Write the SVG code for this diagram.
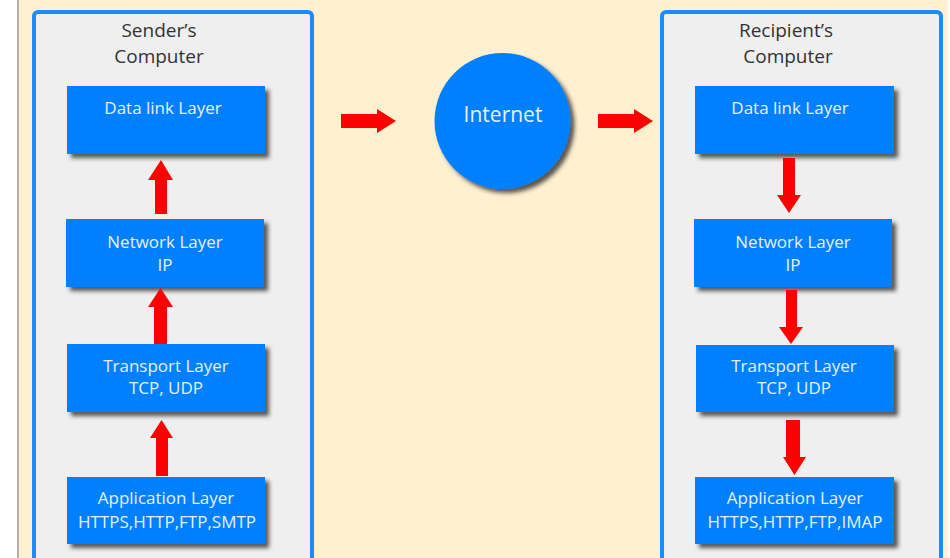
<svg xmlns="http://www.w3.org/2000/svg" width="950" height="558" viewBox="0 0 950 558">
<defs>
<filter id="sh" x="-10%" y="-10%" width="130%" height="140%">
<feDropShadow dx="4" dy="4" stdDeviation="2" flood-color="#222" flood-opacity="0.75"/>
</filter>
<style>
.panel{fill:#efefef;stroke:#1a8cff;stroke-width:4}
.box{fill:#0080ff;filter:url(#sh)}
.title{font-family:"Open Sans",sans-serif;font-size:19px;fill:#333;text-anchor:middle}
.lbl{font-family:"Open Sans",sans-serif;font-size:17px;fill:#e6f2ff;text-anchor:middle}
.arr{fill:#ff0000}
</style>
</defs>
<rect x="0" y="0" width="950" height="558" fill="#ffffff"/>
<rect x="18" y="0" width="930" height="558" fill="#fff0cf"/>
<line x1="18" y1="0" x2="18" y2="558" stroke="#b0b0b0" stroke-width="2"/>
<g id="sender">
<rect class="panel" x="34" y="12" width="278" height="560" rx="4"/>
<text class="title" x="159" y="37">Sender’s</text>
<text class="title" x="159" y="63">Computer</text>
</g>
<g id="recipient">
<rect class="panel" x="662" y="12" width="279" height="560" rx="4"/>
<text class="title" x="786" y="37">Recipient’s</text>
<text class="title" x="788" y="63">Computer</text>
</g>
<g id="s-datalink"><rect class="box" x="67" y="86" width="198" height="68"/><text class="lbl" x="163" y="114">Data link Layer</text></g>
<g id="s-network"><rect class="box" x="66" y="219" width="198" height="68"/><text class="lbl" x="165" y="248">Network Layer</text><text class="lbl" x="165" y="271">IP</text></g>
<g id="s-transport"><rect class="box" x="67" y="344" width="198" height="68"/><text class="lbl" x="166" y="372">Transport Layer</text><text class="lbl" x="166" y="394">TCP, UDP</text></g>
<g id="s-application"><rect class="box" x="67" y="477" width="198" height="67"/><text class="lbl" x="166" y="504">Application Layer</text><text class="lbl" x="167" y="528">HTTPS,HTTP,FTP,SMTP</text></g>
<g id="internet"><circle cx="502.5" cy="121" r="68" fill="#0080ff" filter="url(#sh)"/><text class="lbl" x="503" y="122" style="font-size:21px">Internet</text></g>
<g id="r-datalink"><rect class="box" x="695" y="86" width="199" height="68"/><text class="lbl" x="790" y="114">Data link Layer</text></g>
<g id="r-network"><rect class="box" x="694" y="219" width="198" height="68"/><text class="lbl" x="793" y="248">Network Layer</text><text class="lbl" x="793" y="271">IP</text></g>
<g id="r-transport"><rect class="box" x="696" y="345" width="198" height="67"/><text class="lbl" x="794" y="372">Transport Layer</text><text class="lbl" x="794" y="394">TCP, UDP</text></g>
<g id="r-application"><rect class="box" x="695" y="477" width="199" height="67"/><text class="lbl" x="795" y="504">Application Layer</text><text class="lbl" x="795" y="528">HTTPS,HTTP,FTP,IMAP</text></g>
<g id="connectors">
<polygon class="arr" points="161,160 173,180 167,180 167,214 155,214 155,180 148,180"/>
<polygon class="arr" points="160.5,288 173,307 167,307 167,344 154,344 154,307 148,307"/>
<polygon class="arr" points="161.5,420 173,438 168,438 168,476 156,476 156,438 150,438"/>
<polygon class="arr" points="783,158 795,158 795,195 801,195 789,213 777,195 783,195"/>
<polygon class="arr" points="786,290 797,290 797,327 803,327 791,344 779,327 786,327"/>
<polygon class="arr" points="786,420 800,420 800,457 806,457 794.5,475 783,457 786,457"/>
<polygon class="arr" points="341,114 377,114 377,109 396,121 377,133 377,128 341,128"/>
<polygon class="arr" points="598,114 634,114 634,109 653,121 634,133 634,128 598,128"/>
</g>
</svg>
